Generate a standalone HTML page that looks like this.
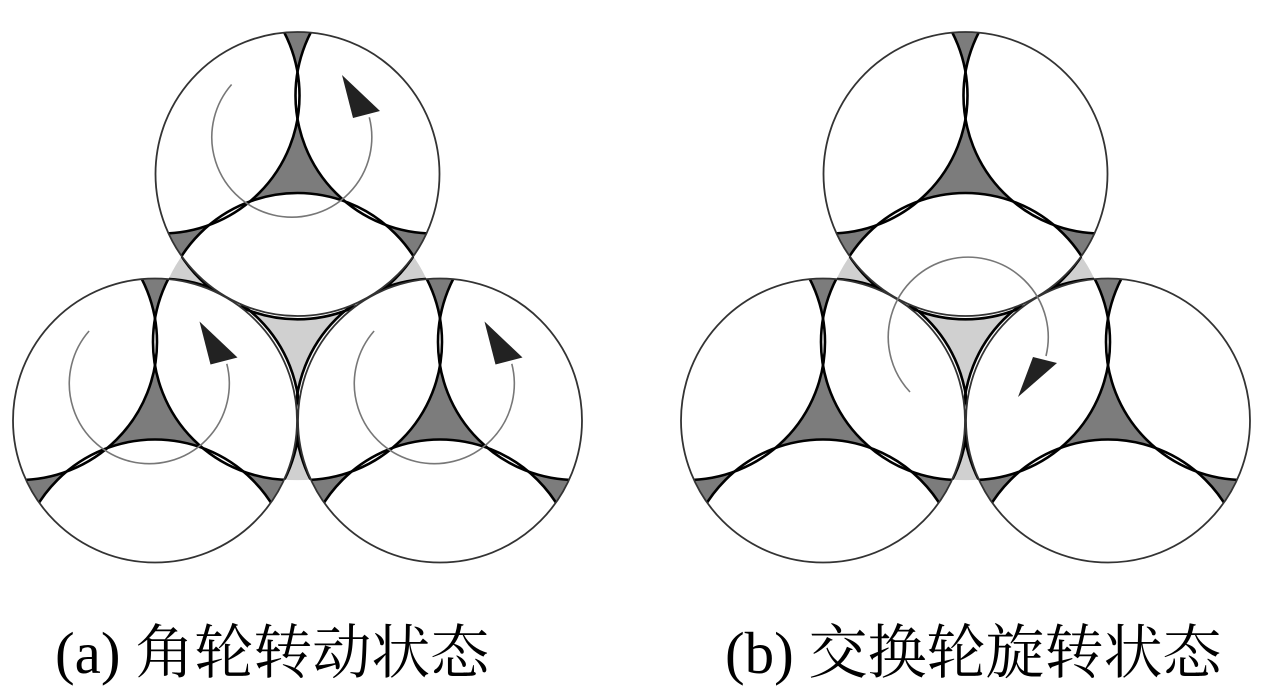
<!DOCTYPE html>
<html><head><meta charset="utf-8"><style>
html,body{margin:0;padding:0;background:#fff;width:1282px;height:692px;overflow:hidden;}
svg{display:block;overflow:hidden;}
</style></head><body>
<svg width="1282" height="692" viewBox="0 0 1282 692" xmlns="http://www.w3.org/2000/svg">
<defs>
  <clipPath id="cw"><circle cx="0" cy="0" r="142"/></clipPath>
  <g id="wheel">
    <g clip-path="url(#cw)">
      <circle cx="0" cy="0" r="142" fill="#7c7c7c"/>
      <circle cx="0" cy="157" r="138" fill="#fff"/>
      <circle cx="-136" cy="-78.5" r="138" fill="#fff"/>
      <circle cx="136" cy="-78.5" r="138" fill="#fff"/>
      <circle cx="0" cy="157" r="138" fill="none" stroke="#000" stroke-width="2.6"/>
      <circle cx="-136" cy="-78.5" r="138" fill="none" stroke="#000" stroke-width="2.6"/>
      <circle cx="136" cy="-78.5" r="138" fill="none" stroke="#000" stroke-width="2.6"/>
    </g>
    <circle cx="0" cy="0" r="142" fill="none" stroke="#333" stroke-width="1.8"/>
  </g>
  <g id="exch">
    <g clip-path="url(#cw)">
      <circle cx="0" cy="0" r="142" fill="#d0d0d0"/>
      <circle cx="0" cy="-157" r="138" fill="#fff"/>
      <circle cx="-136" cy="78.5" r="138" fill="#fff"/>
      <circle cx="136" cy="78.5" r="138" fill="#fff"/>
      <circle cx="0" cy="-157" r="138" fill="none" stroke="#000" stroke-width="2.6"/>
      <circle cx="-136" cy="78.5" r="138" fill="none" stroke="#000" stroke-width="2.6"/>
      <circle cx="136" cy="78.5" r="138" fill="none" stroke="#000" stroke-width="2.6"/>
    </g>
  </g>
  <g id="arrA">
    <path d="M -65.9 -89.5 A 80 80 0 1 0 71.8 -56.7" fill="none" stroke="#777" stroke-width="1.6"/>
    <polygon points="44.5,-99 55.5,-56 82.5,-63" fill="#222"/>
  </g>
</defs>

<!-- Figure (a) -->
<use href="#exch" x="297.5" y="338.3"/>
<use href="#wheel" x="297.5" y="174"/>
<use href="#wheel" x="155" y="420.5"/>
<use href="#wheel" x="440" y="420.5"/>
<use href="#arrA" x="297.5" y="174"/>
<use href="#arrA" x="155" y="420.5"/>
<use href="#arrA" x="440" y="420.5"/>

<!-- Figure (b) -->
<g transform="translate(668,0)">
  <use href="#exch" x="297.5" y="338.3"/>
  <use href="#wheel" x="297.5" y="174"/>
  <use href="#wheel" x="155" y="420.5"/>
  <use href="#wheel" x="440" y="420.5"/>
</g>
<path d="M 910 392 A 80 80 0 1 1 1046 356" fill="none" stroke="#777" stroke-width="1.6"/>
<polygon points="1018,397 1033,357 1057,363" fill="#222"/>

<text x="55" y="673" font-family="'Liberation Serif','Noto Serif CJK SC',serif" font-size="59" fill="#000">(a) <tspan font-family="'Noto Serif CJK SC','Noto Sans CJK SC',serif">角轮转动状态</tspan></text>
<text x="725" y="673" font-family="'Liberation Serif','Noto Serif CJK SC',serif" font-size="59" fill="#000">(b) <tspan font-family="'Noto Serif CJK SC','Noto Sans CJK SC',serif">交换轮旋转状态</tspan></text>
</svg>
</body></html>
